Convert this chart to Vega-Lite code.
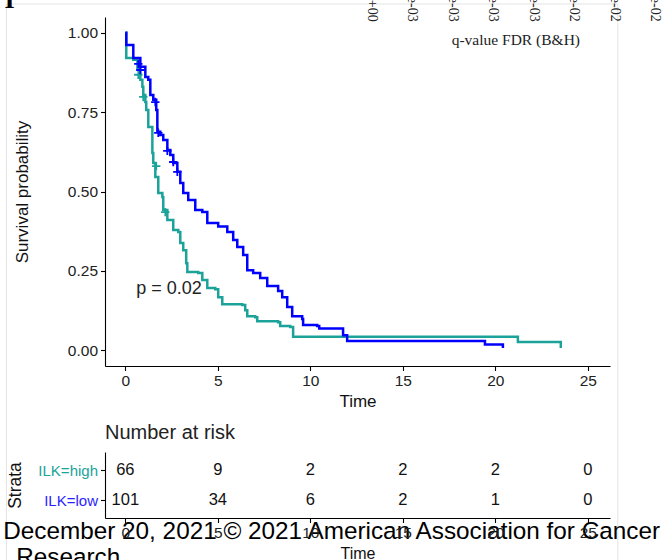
{
  "$schema": "https://vega.github.io/schema/vega-lite/v6.json",
  "autosize": {"type": "none"},
  "padding": {"left": 105, "top": 17, "right": 561, "bottom": 543},
  "background": "white",
  "bounds": "flush",
  "spacing": 86,
  "config": {
    "view": {"stroke": null},
    "font": "Liberation Sans",
    "axis": {
      "grid": false,
      "domainColor": "#000000",
      "tickColor": "#000000",
      "domainWidth": 1.1,
      "tickWidth": 1.1,
      "tickSize": 4.5,
      "labelColor": "#222222",
      "titleColor": "#111111",
      "labelFont": "Liberation Sans",
      "titleFont": "Liberation Sans",
      "titleFontWeight": "normal",
      "labelFontSize": 15.5,
      "titleFontSize": 17
    }
  },
  "datasets": {
    "curves": [
      {"strata": "ILK=high", "time": 0, "surv": 1.0},
      {"strata": "ILK=high", "time": 0.05, "surv": 0.921},
      {"strata": "ILK=high", "time": 0.43, "surv": 0.915},
      {"strata": "ILK=high", "time": 0.65, "surv": 0.890},
      {"strata": "ILK=high", "time": 0.81, "surv": 0.852},
      {"strata": "ILK=high", "time": 0.92, "surv": 0.830},
      {"strata": "ILK=high", "time": 0.97, "surv": 0.804},
      {"strata": "ILK=high", "time": 1.08, "surv": 0.782},
      {"strata": "ILK=high", "time": 1.13, "surv": 0.757},
      {"strata": "ILK=high", "time": 1.24, "surv": 0.703},
      {"strata": "ILK=high", "time": 1.46, "surv": 0.621},
      {"strata": "ILK=high", "time": 1.51, "surv": 0.590},
      {"strata": "ILK=high", "time": 1.62, "surv": 0.546},
      {"strata": "ILK=high", "time": 1.78, "surv": 0.495},
      {"strata": "ILK=high", "time": 2.00, "surv": 0.483},
      {"strata": "ILK=high", "time": 2.05, "surv": 0.442},
      {"strata": "ILK=high", "time": 2.27, "surv": 0.410},
      {"strata": "ILK=high", "time": 2.59, "surv": 0.379},
      {"strata": "ILK=high", "time": 2.86, "surv": 0.372},
      {"strata": "ILK=high", "time": 2.97, "surv": 0.338},
      {"strata": "ILK=high", "time": 3.13, "surv": 0.315},
      {"strata": "ILK=high", "time": 3.29, "surv": 0.274},
      {"strata": "ILK=high", "time": 3.35, "surv": 0.246},
      {"strata": "ILK=high", "time": 3.94, "surv": 0.243},
      {"strata": "ILK=high", "time": 4.16, "surv": 0.221},
      {"strata": "ILK=high", "time": 4.43, "surv": 0.196},
      {"strata": "ILK=high", "time": 4.86, "surv": 0.192},
      {"strata": "ILK=high", "time": 5.02, "surv": 0.167},
      {"strata": "ILK=high", "time": 5.24, "surv": 0.145},
      {"strata": "ILK=high", "time": 6.32, "surv": 0.142},
      {"strata": "ILK=high", "time": 6.48, "surv": 0.126},
      {"strata": "ILK=high", "time": 6.59, "surv": 0.107},
      {"strata": "ILK=high", "time": 7.02, "surv": 0.104},
      {"strata": "ILK=high", "time": 7.13, "surv": 0.091},
      {"strata": "ILK=high", "time": 8.26, "surv": 0.088},
      {"strata": "ILK=high", "time": 8.37, "surv": 0.076},
      {"strata": "ILK=high", "time": 8.91, "surv": 0.073},
      {"strata": "ILK=high", "time": 9.07, "surv": 0.042},
      {"strata": "ILK=high", "time": 21.22, "surv": 0.026},
      {"strata": "ILK=high", "time": 23.54, "surv": 0.007},
      {"strata": "ILK=low", "time": 0, "surv": 1.0},
      {"strata": "ILK=low", "time": 0.05, "surv": 0.962},
      {"strata": "ILK=low", "time": 0.43, "surv": 0.921},
      {"strata": "ILK=low", "time": 0.81, "surv": 0.893},
      {"strata": "ILK=low", "time": 1.08, "surv": 0.861},
      {"strata": "ILK=low", "time": 1.24, "surv": 0.852},
      {"strata": "ILK=low", "time": 1.35, "surv": 0.804},
      {"strata": "ILK=low", "time": 1.51, "surv": 0.789},
      {"strata": "ILK=low", "time": 1.67, "surv": 0.757},
      {"strata": "ILK=low", "time": 1.73, "surv": 0.688},
      {"strata": "ILK=low", "time": 1.89, "surv": 0.678},
      {"strata": "ILK=low", "time": 2.05, "surv": 0.662},
      {"strata": "ILK=low", "time": 2.27, "surv": 0.631},
      {"strata": "ILK=low", "time": 2.43, "surv": 0.615},
      {"strata": "ILK=low", "time": 2.59, "surv": 0.590},
      {"strata": "ILK=low", "time": 2.81, "surv": 0.562},
      {"strata": "ILK=low", "time": 2.97, "surv": 0.527},
      {"strata": "ILK=low", "time": 3.13, "surv": 0.495},
      {"strata": "ILK=low", "time": 3.40, "surv": 0.473},
      {"strata": "ILK=low", "time": 3.78, "surv": 0.442},
      {"strata": "ILK=low", "time": 4.16, "surv": 0.435},
      {"strata": "ILK=low", "time": 4.43, "surv": 0.401},
      {"strata": "ILK=low", "time": 5.02, "surv": 0.390},
      {"strata": "ILK=low", "time": 5.51, "surv": 0.372},
      {"strata": "ILK=low", "time": 5.83, "surv": 0.347},
      {"strata": "ILK=low", "time": 6.05, "surv": 0.325},
      {"strata": "ILK=low", "time": 6.37, "surv": 0.300},
      {"strata": "ILK=low", "time": 6.59, "surv": 0.252},
      {"strata": "ILK=low", "time": 6.91, "surv": 0.243},
      {"strata": "ILK=low", "time": 7.29, "surv": 0.227},
      {"strata": "ILK=low", "time": 7.67, "surv": 0.202},
      {"strata": "ILK=low", "time": 8.26, "surv": 0.186},
      {"strata": "ILK=low", "time": 8.48, "surv": 0.167},
      {"strata": "ILK=low", "time": 8.75, "surv": 0.136},
      {"strata": "ILK=low", "time": 9.02, "surv": 0.107},
      {"strata": "ILK=low", "time": 9.56, "surv": 0.098},
      {"strata": "ILK=low", "time": 9.61, "surv": 0.079},
      {"strata": "ILK=low", "time": 10.37, "surv": 0.076},
      {"strata": "ILK=low", "time": 10.48, "surv": 0.068},
      {"strata": "ILK=low", "time": 11.77, "surv": 0.047},
      {"strata": "ILK=low", "time": 11.99, "surv": 0.029},
      {"strata": "ILK=low", "time": 19.44, "surv": 0.018},
      {"strata": "ILK=low", "time": 20.41, "surv": 0.007}
    ],
    "censor": [
      {"strata": "ILK=high", "time": 0.70, "surv": 0.868},
      {"strata": "ILK=high", "time": 0.97, "surv": 0.798},
      {"strata": "ILK=high", "time": 1.67, "surv": 0.580},
      {"strata": "ILK=high", "time": 2.16, "surv": 0.435},
      {"strata": "ILK=low", "time": 0.70, "surv": 0.902},
      {"strata": "ILK=low", "time": 0.81, "surv": 0.883},
      {"strata": "ILK=low", "time": 1.62, "surv": 0.782},
      {"strata": "ILK=low", "time": 1.78, "surv": 0.685},
      {"strata": "ILK=low", "time": 2.27, "surv": 0.628},
      {"strata": "ILK=low", "time": 2.59, "surv": 0.593},
      {"strata": "ILK=low", "time": 2.81, "surv": 0.562}
    ],
    "risk": [
      {"strata": "ILK=high", "time": 0, "n": 66},
      {"strata": "ILK=high", "time": 5, "n": 9},
      {"strata": "ILK=high", "time": 10, "n": 2},
      {"strata": "ILK=high", "time": 15, "n": 2},
      {"strata": "ILK=high", "time": 20, "n": 2},
      {"strata": "ILK=high", "time": 25, "n": 0},
      {"strata": "ILK=low", "time": 0, "n": 101},
      {"strata": "ILK=low", "time": 5, "n": 34},
      {"strata": "ILK=low", "time": 10, "n": 6},
      {"strata": "ILK=low", "time": 15, "n": 2},
      {"strata": "ILK=low", "time": 20, "n": 1},
      {"strata": "ILK=low", "time": 25, "n": 0}
    ],
    "pvalue": [
      {"label": "p = 0.02", "time": 0.59, "surv": 0.192}
    ],
    "qlabels": [
      {"label": "e+00", "time": 13.34, "surv": 1.035},
      {"label": "e-03", "time": 15.52, "surv": 1.035},
      {"label": "e-03", "time": 17.71, "surv": 1.035},
      {"label": "e-03", "time": 19.90, "surv": 1.035},
      {"label": "e-03", "time": 22.08, "surv": 1.035},
      {"label": "e-02", "time": 24.27, "surv": 1.035},
      {"label": "e-02", "time": 26.46, "surv": 1.035},
      {"label": "e-02", "time": 28.65, "surv": 1.035}
    ],
    "qtitle": [
      {"label": "q-value FDR (B&H)", "time": 21.11, "surv": 0.978}
    ],
    "panel": [
      {"label": "I", "time": -6.26, "surv": 1.079}
    ],
    "frame_v": [
      {"time": -6.43, "surv": 1.091, "surv2": -0.664},
      {"time": 26.62, "surv": 1.091, "surv2": -0.664}
    ],
    "frame_h": [
      {"time": -6.43, "time2": 26.62, "surv": 1.091}
    ],
    "footer": [
      {"label": "December 20, 2021 © 2021 American Association for Cancer", "time": -6.6, "surv": -0.596},
      {"label": "Research", "time": -5.9, "surv": -0.678}
    ]
  },
  "vconcat": [
    {
      "width": 505,
      "height": 349,
      "encoding": {
        "x": {
          "field": "time",
          "type": "quantitative",
          "scale": {"domain": [-1.1, 26.2], "nice": false, "zero": false},
          "axis": {"values": [0, 5, 10, 15, 20, 25], "title": "Time", "labelPadding": 3, "titlePadding": 4}
        },
        "y": {
          "field": "surv",
          "type": "quantitative",
          "scale": {"domain": [-0.05, 1.05], "nice": false, "zero": false},
          "axis": {"values": [0, 0.25, 0.5, 0.75, 1], "format": ".2f", "title": "Survival probability", "labelPadding": 3, "titlePadding": 36}
        }
      },
      "layer": [
        {
          "data": {"name": "frame_v"},
          "mark": {"type": "rule", "color": "#e4e4e4", "strokeWidth": 1},
          "encoding": {"y2": {"field": "surv2"}}
        },
        {
          "data": {"name": "frame_h"},
          "mark": {"type": "rule", "color": "#e4e4e4", "strokeWidth": 1},
          "encoding": {"x2": {"field": "time2"}}
        },
        {
          "data": {"name": "curves"},
          "mark": {"type": "line", "interpolate": "step-after", "strokeWidth": 2.5},
          "encoding": {
            "color": {"field": "strata", "type": "nominal", "scale": {"domain": ["ILK=high", "ILK=low"], "range": ["#1ba39a", "#0000ff"]}, "legend": null}
          }
        },
        {
          "data": {"name": "censor"},
          "mark": {"type": "point", "shape": "M-1,0L1,0M0,-1L0,1", "filled": false, "strokeWidth": 1.8, "size": 70, "opacity": 1},
          "encoding": {
            "color": {"field": "strata", "type": "nominal", "scale": {"domain": ["ILK=high", "ILK=low"], "range": ["#1ba39a", "#0000ff"]}, "legend": null}
          }
        },
        {
          "data": {"name": "pvalue"},
          "mark": {"type": "text", "align": "left", "baseline": "middle", "fontSize": 18, "color": "#222222", "font": "Liberation Sans"},
          "encoding": {"text": {"field": "label"}}
        },
        {
          "data": {"name": "qlabels"},
          "mark": {"type": "text", "angle": 90, "align": "right", "baseline": "middle", "fontSize": 14, "font": "Liberation Serif", "color": "#222222"},
          "encoding": {"text": {"field": "label"}}
        },
        {
          "data": {"name": "qtitle"},
          "mark": {"type": "text", "align": "center", "baseline": "middle", "fontSize": 15.5, "font": "Liberation Serif", "color": "#222222"},
          "encoding": {"text": {"field": "label"}}
        },
        {
          "data": {"name": "panel"},
          "mark": {"type": "text", "align": "center", "baseline": "alphabetic", "fontSize": 26, "fontWeight": "bold", "font": "Liberation Serif", "color": "#000000"},
          "encoding": {"text": {"field": "label"}}
        },
        {
          "data": {"name": "footer"},
          "mark": {"type": "text", "align": "left", "baseline": "alphabetic", "fontSize": 24.3, "font": "Liberation Sans", "color": "#000000"},
          "encoding": {"text": {"field": "label"}}
        }
      ]
    },
    {
      "width": 505,
      "height": 66,
      "title": {"text": "Number at risk", "anchor": "start", "frame": "group", "fontSize": 20, "fontWeight": "normal", "font": "Liberation Sans", "color": "#222222", "offset": 9},
      "data": {"name": "risk"},
      "mark": {"type": "text", "fontSize": 16.5, "color": "#111111", "baseline": "middle"},
      "encoding": {
        "x": {
          "field": "time",
          "type": "quantitative",
          "scale": {"domain": [-1.1, 26.2], "nice": false, "zero": false},
          "axis": {"values": [0, 5, 10, 15, 20, 25], "title": "Time", "labelPadding": 3, "titlePadding": 4, "titleFontSize": 16}
        },
        "y": {
          "field": "strata",
          "type": "ordinal",
          "scale": {"type": "point", "padding": 0.6, "domain": ["ILK=high", "ILK=low"]},
          "axis": {
            "title": "Strata",
            "titlePadding": 13,
            "titleFontSize": 17.5,
            "labelFontSize": 15,
            "labelPadding": 3,
            "labelColor": {"condition": {"test": "datum.value === 'ILK=high'", "value": "#1ba39a"}, "value": "#2b1fff"}
          }
        },
        "text": {"field": "n", "type": "quantitative"}
      }
    }
  ]
}
